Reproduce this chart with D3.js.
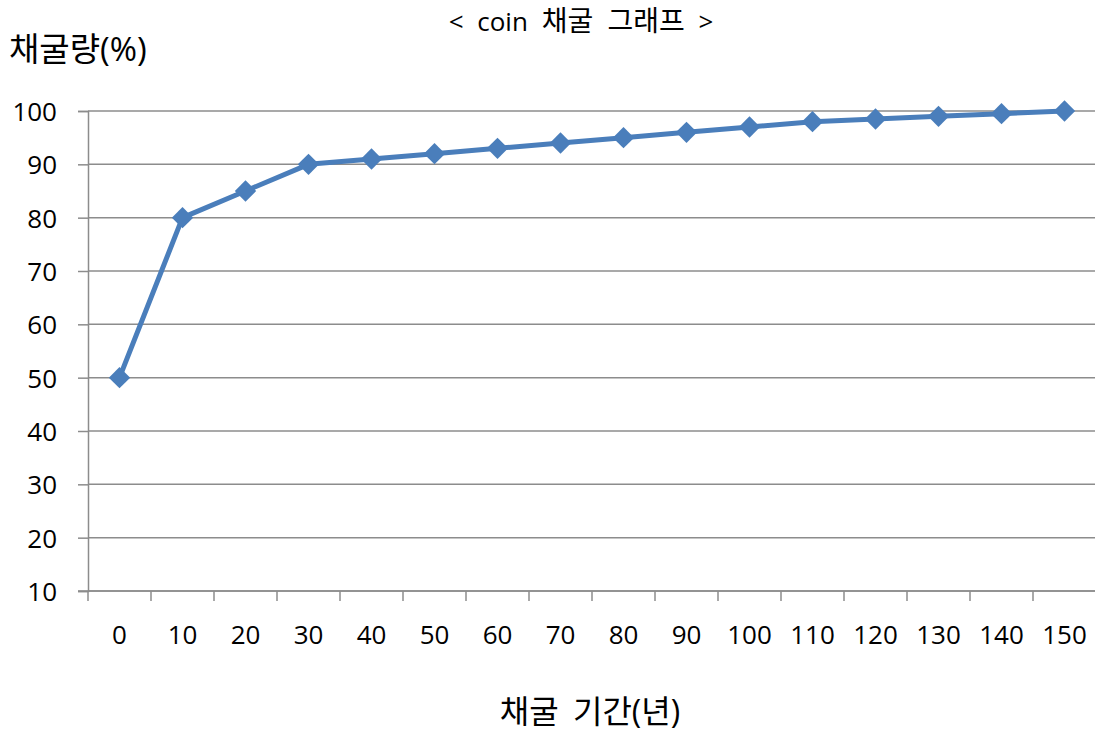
<!DOCTYPE html>
<html>
<head>
<meta charset="utf-8">
<script src="https://cdn.jsdelivr.net/npm/d3@7"></script>
<style>
  body { margin: 0; background: #fff; }
  text { font-family: "Open Sans", "Noto Sans CJK KR", sans-serif; fill: #000; }
</style>
</head>
<body>
<div id="chart"></div>
<script>
var years = [0, 10, 20, 30, 40, 50, 60, 70, 80, 90, 100, 110, 120, 130, 140, 150];
var minedPct = [50, 80, 85, 90, 91, 92, 93, 94, 95, 96, 97, 98, 98.5, 99, 99.5, 100];
var yTicks = [10, 20, 30, 40, 50, 60, 70, 80, 90, 100];

var data = years.map((y, i) => ({ year: y, value: minedPct[i] }));

var svg = d3.select("#chart")
            .append("svg")
            .attr("width", 1095)
            .attr("height", 731);

var margin = { top: 111, right: 0, bottom: 140, left: 88 };
var width = 1095 - margin.left - margin.right;
var height = 731 - margin.top - margin.bottom;

var xScale = d3.scaleBand()
               .domain(years)
               .range([margin.left, margin.left + 1008]);

var yScale = d3.scaleLinear()
               .domain([10, 100])
               .range([margin.top + height, margin.top]);

// gridlines
svg.append("g")
   .selectAll("line")
   .data(yTicks)
   .enter()
   .append("line")
   .attr("x1", margin.left)
   .attr("x2", 1095)
   .attr("y1", d => yScale(d))
   .attr("y2", d => yScale(d))
   .attr("stroke", "#8c8c8c")
   .attr("stroke-width", 1.5);

// y axis
var yAxis = svg.append("g")
   .attr("transform", `translate(${margin.left}, 0)`)
   .call(d3.axisLeft(yScale).tickValues(yTicks).tickSize(10).tickPadding(20));
yAxis.select(".domain").attr("stroke", "#8c8c8c").attr("stroke-width", 1.5);
yAxis.selectAll(".tick line").attr("stroke", "#8c8c8c").attr("stroke-width", 1.5);
yAxis.selectAll(".tick text")
     .style("font-family", "'Open Sans', sans-serif")
     .style("font-size", "26px")
     .attr("x", -31)
     .attr("dy", "0.36em");

// x axis: ticks between categories
var bw = xScale.bandwidth();
var xAxis = svg.append("g")
   .attr("transform", `translate(0, ${margin.top + height})`);
xAxis.append("line")
   .attr("x1", margin.left - 10)
   .attr("x2", 1095)
   .attr("stroke", "#8c8c8c")
   .attr("stroke-width", 1.5);
xAxis.selectAll(".xt")
   .data(years)
   .enter()
   .append("line")
   .attr("class", "xt")
   .attr("x1", d => xScale(d))
   .attr("x2", d => xScale(d))
   .attr("y1", 0)
   .attr("y2", 10)
   .attr("stroke", "#8c8c8c")
   .attr("stroke-width", 1.5);
xAxis.selectAll(".xl")
   .data(years)
   .enter()
   .append("text")
   .attr("class", "xl")
   .attr("x", d => xScale(d) + bw / 2)
   .attr("y", 53)
   .style("text-anchor", "middle")
   .style("font-size", "26px")
   .text(d => d);

var line = d3.line()
             .x(d => xScale(d.year) + bw / 2)
             .y(d => yScale(d.value));

svg.append("path")
   .datum(data)
   .attr("fill", "none")
   .attr("stroke", "#4a7ebb")
   .attr("stroke-width", 5)
   .attr("stroke-linejoin", "round")
   .attr("d", line);

var diamond = d3.symbol().type(d3.symbolDiamond2).size(290);
svg.selectAll(".pt")
   .data(data)
   .enter()
   .append("path")
   .attr("class", "pt")
   .attr("d", diamond)
   .attr("fill", "#4a7ebb")
   .attr("transform", d => `translate(${xScale(d.year) + bw / 2}, ${yScale(d.value)})`);

// chart title
var title = svg.append("text")
   .attr("x", 581)
   .attr("y", 31)
   .style("text-anchor", "middle")
   .style("font-size", "26px")
   .style("word-spacing", "7px");
title.append("tspan").text("< coin ");
title.append("tspan").style("font-size", "28px").text("채굴 그래프");
title.append("tspan").text(" >");

svg.append("text")
   .attr("x", 9)
   .attr("y", 61)
   .style("font-size", "33px")
   .text("채굴량(%)");

svg.append("text")
   .attr("x", 590)
   .attr("y", 723)
   .style("text-anchor", "middle")
   .style("font-size", "32px")
   .style("word-spacing", "6px")
   .text("채굴 기간(년)");
</script>
</body>
</html>
